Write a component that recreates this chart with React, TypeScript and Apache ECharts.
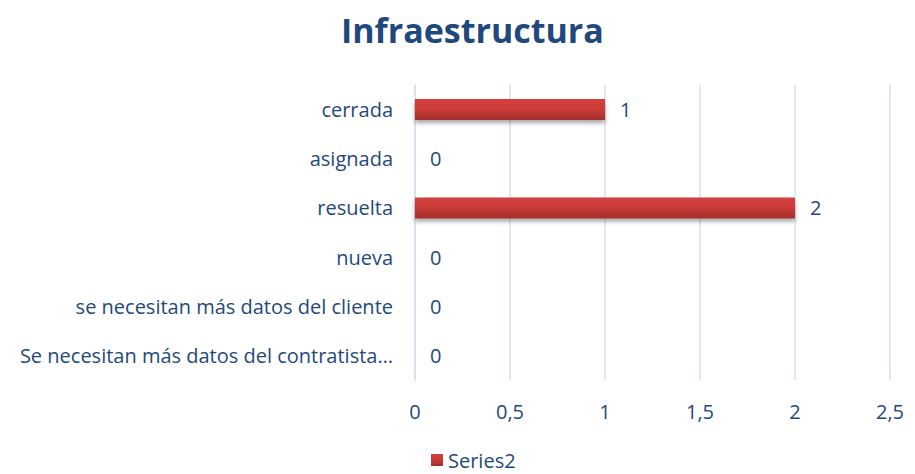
import React, { useEffect, useRef } from "react";
import * as echarts from "echarts";

const categories = [
  "cerrada",
  "asignada",
  "resuelta",
  "nueva",
  "se necesitan más datos del cliente",
  "Se necesitan más datos del contratista…",
];
const series2 = [1, 0, 2, 0, 0, 0];
const xTicks = [0, 0.5, 1, 1.5, 2, 2.5];

const TEXT = "#1F497D";
const FONT = "Open Sans";

export default function App() {
  const ref = useRef<HTMLDivElement>(null);
  useEffect(() => {
    if (!ref.current) return;
    const chart = echarts.init(ref.current, null, { renderer: "svg" });
    chart.setOption({
      animation: false,
      backgroundColor: "#ffffff",
      title: {
        text: "Infraestructura",
        left: 328,
        top: 0,
        textStyle: { color: TEXT, fontSize: 34, fontWeight: "bold", fontFamily: FONT },
      },
      legend: {
        top: 441,
        left: 423,
        padding: 0,
        itemWidth: 12,
        itemHeight: 12,
        itemGap: 4,
        icon: "rect",
        data: ["Series2"],
        textStyle: { color: TEXT, fontSize: 20, lineHeight: 22, fontFamily: FONT, padding: [0, 0, 0, 0] },
      },
      grid: { left: 407, right: 12, top: 77, bottom: 94, containLabel: false },
      xAxis: {
        type: "value",
        min: xTicks[0],
        max: xTicks[xTicks.length - 1],
        interval: 0.5,
        axisLine: { show: false },
        axisTick: { show: false },
        splitLine: { show: true, lineStyle: { color: "#D6E0F0", width: 1.5 } },
        axisLabel: {
          color: TEXT,
          fontSize: 20,
          fontFamily: FONT,
          margin: 21,
          formatter: (v: number) => String(v).replace(".", ","),
        },
      },
      yAxis: {
        type: "category",
        inverse: true,
        data: categories,
        axisLine: { show: true, lineStyle: { color: "#D6E0F0", width: 1.5 } },
        axisTick: { show: false },
        axisLabel: { color: TEXT, fontSize: 20, fontFamily: FONT, margin: 22 },
      },
      series: [
        {
          name: "Series2",
          type: "bar",
          data: series2,
          barWidth: 21,
          itemStyle: {
            color: new echarts.graphic.LinearGradient(0, 0, 0, 1, [
              { offset: 0, color: "#D3413D" },
              { offset: 0.5, color: "#C93B37" },
              { offset: 1, color: "#A32E2B" },
            ]),
            shadowColor: "rgba(0,0,0,0.35)",
            shadowBlur: 4,
            shadowOffsetY: 3,
          },
          label: {
            show: true,
            position: "right",
            distance: 15,
            color: TEXT,
            fontSize: 20,
            fontFamily: FONT,
          },
        },
      ],
    });
    return () => chart.dispose();
  }, []);
  return <div ref={ref} style={{ width: 899, height: 466 }} />;
}
